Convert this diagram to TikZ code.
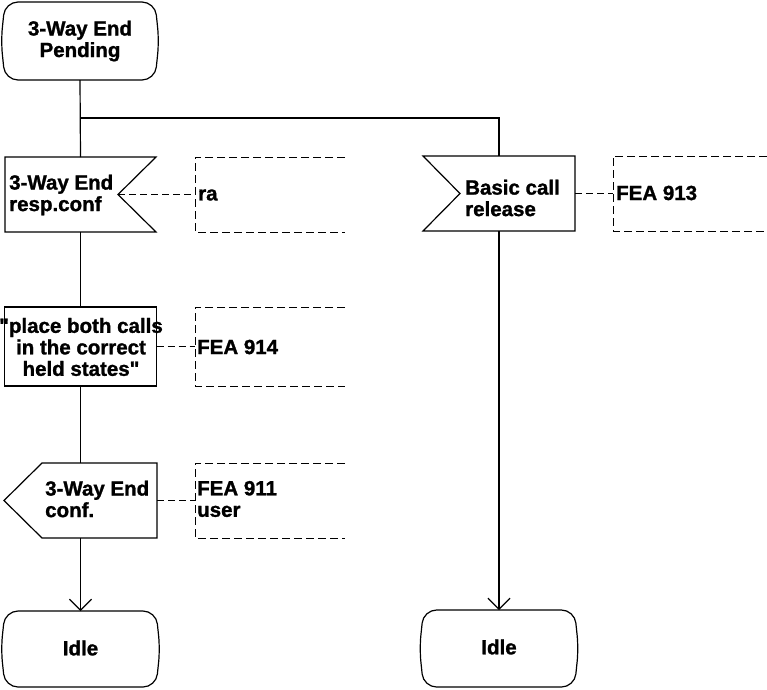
\documentclass[tikz,border=0pt]{standalone}
\usepackage{fontspec}
\setmainfont{Liberation Sans}[Ligatures=TeXOff, BoldFeatures={FakeBold=1.3}]
\usetikzlibrary{arrows.meta}

% outline of an SDL state symbol drawn round a named frame node
\newcommand\sdlstate[1]{%
  \draw[outline, rounded corners=13pt]
    (#1.north west) -- (#1.north east) -- ([xshift=4pt]#1.east)
    -- (#1.south east) -- (#1.south west) -- ([xshift=-4pt]#1.west) -- cycle;}
% SDL text annotation: open bracket round a named frame node
\newcommand\sdlnote[1]{%
  \draw[notedash] (#1.north east) -- (#1.north west) -- (#1.south west) -- (#1.south east);}

\begin{document}
\begin{tikzpicture}[x=1pt, y=-1pt,
  frame/.style={draw=none, inner sep=0pt, outer sep=0pt},
  outline/.style={line width=1.2pt, line join=miter},
  flow/.style={line width=1.2pt},
  notedash/.style={line width=0.9pt, dash pattern=on 8pt off 4pt},
  link/.style={line width=0.9pt, dash pattern=on 7pt off 4pt},
  lbl/.style={font=\bfseries\fontsize{20.5}{21.5}\selectfont, inner sep=0pt, align=left},
  clbl/.style={lbl, align=center},
  tip/.style={-{Straight Barb[length=11pt, width=22pt, line width=1.2pt]}}]
\useasboundingbox (0,0) rectangle (767,689);

% ---- left column ----
\node[frame, minimum width=150pt, minimum height=78pt] (pend) at (80,41) {};
\sdlstate{pend}
\node[clbl] (pendtxt) at (80,41) {3-Way End\\Pending};

\node[frame, minimum width=151pt, minimum height=75pt] (resp) at (80.5,194.5) {};
\draw[outline] (resp.north west) -- (resp.north east) -- ([xshift=-38pt]resp.east)
  -- (resp.south east) -- (resp.south west) -- cycle;
\node[lbl, anchor=west] (resptxt) at (9,195) {3-Way End\\resp.conf};
\coordinate (respnotch) at ([xshift=-38pt]resp.east);

\node[frame, minimum width=152pt, minimum height=79pt] (task) at (80.5,346.5) {};
\draw[outline] (task.north west) rectangle (task.south east);
\node[clbl] (tasktxt) at (81,347) {"place both calls\\in the correct\\held states"};

\node[frame, minimum width=153pt, minimum height=75pt] (conf) at (80.5,500.5) {};
\draw[outline] (conf.north east) -- (conf.south east) -- ([xshift=38pt]conf.south west)
  -- (conf.west) -- ([xshift=38pt]conf.north west) -- cycle;
\node[lbl, anchor=west] (conftxt) at (45,499) {3-Way End\\conf.};

\node[frame, minimum width=151pt, minimum height=76pt] (idleL) at (80.5,649) {};
\sdlstate{idleL}
\node[clbl] (idleLtxt) at (80.5,648) {Idle};

% ---- right column ----
\node[frame, minimum width=152pt, minimum height=75pt] (rel) at (499,193.5) {};
\draw[outline] (rel.north west) -- (rel.north east) -- (rel.south east)
  -- (rel.south west) -- ([xshift=37pt]rel.west) -- cycle;
\node[lbl, anchor=west] (reltxt) at (465,198) {Basic call\\release};

\node[frame, minimum width=151pt, minimum height=77pt] (idleR) at (499,648.5) {};
\sdlstate{idleR}
\node[clbl] (idleRtxt) at (499,647) {Idle};

% ---- annotations ----
\node[frame, minimum width=150pt, minimum height=75pt] (n1) at (270,194.5) {};
\sdlnote{n1}
\node[lbl, anchor=west] (n1txt) at (198,195) {ra};

\node[frame, minimum width=150pt, minimum height=79pt] (n2) at (270,346.5) {};
\sdlnote{n2}
\node[lbl, anchor=west] (n2txt) at (197,347) {FEA 914};

\node[frame, minimum width=150pt, minimum height=75pt] (n3) at (270,500.5) {};
\sdlnote{n3}
\node[lbl, anchor=west] (n3txt) at (197,499) {FEA 911\\user};

\node[frame, minimum width=154pt, minimum height=75pt] (n4) at (690,193.5) {};
\sdlnote{n4}
\node[lbl, anchor=west] (n4txt) at (616,193) {FEA 913};

% ---- flow lines ----
\coordinate (fork) at (80.5,118);
\coordinate (forkR) at (499,118);
\draw[flow] (pend.south) -- (resp.north);
\draw[flow] (fork) -- (forkR) -- (rel.north);
\draw[flow] (resp.south) -- (task.north);
\draw[flow] (task.south) -- (conf.north);
\draw[flow, tip] (conf.south) -- (idleL.north);
\draw[flow, tip] (rel.south) -- (idleR.north);

% ---- annotation links ----
\draw[link] (respnotch) -- (n1.west);
\draw[link] (task.east) -- (n2.west);
\draw[link] (conf.east) -- (n3.west);
\draw[link] (rel.east) -- (n4.west);
\end{tikzpicture}
\end{document}
